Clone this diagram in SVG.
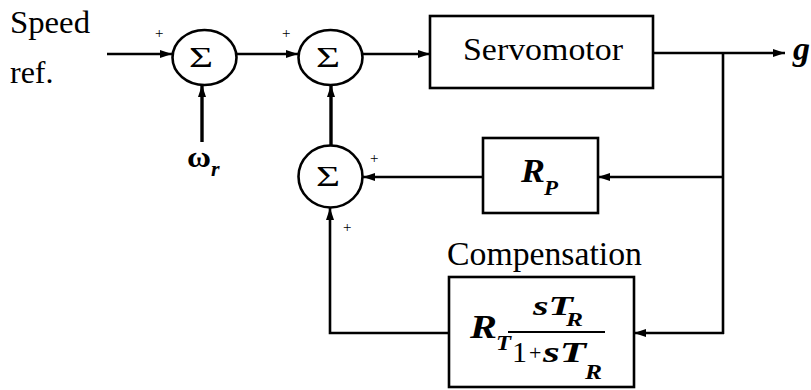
<svg xmlns="http://www.w3.org/2000/svg" width="811" height="390" viewBox="0 0 811 390">
<style>
.lbl{font-size:32px}
.sig{font-size:30px}
.bi{font-weight:bold;font-style:italic}
.pl{font-size:15px}
.box{fill:#fff;stroke:#000;stroke-width:2.6}
.sum{fill:#fff;stroke:#000;stroke-width:2.6}
.ln{fill:none;stroke:#000;stroke-width:2.6}
.th{fill:none;stroke:#000;stroke-width:3.4}
</style>
<defs>
<marker id="ah" viewBox="0 0 12 8" refX="12" refY="4" markerWidth="12" markerHeight="8" markerUnits="userSpaceOnUse" orient="auto">
<path d="M0,0 L12,4 L0,8 Z" fill="#000"/>
</marker>
</defs>
<g font-family="'Liberation Serif', 'DejaVu Serif', serif" fill="#000">
<g id="labels">
<text class="lbl" x="10" y="33" textLength="80" lengthAdjust="spacingAndGlyphs">Speed</text>
<text class="lbl" x="10" y="83">ref.</text>
<text x="187" y="167" font-size="30" font-weight="bold" textLength="24" lengthAdjust="spacingAndGlyphs">ω</text>
<text class="bi" x="211" y="176" font-size="22">r</text>
<text class="bi" x="793" y="60" font-size="34">g</text>
<text x="447" y="265" font-size="34" textLength="195" lengthAdjust="spacingAndGlyphs">Compensation</text>
<text class="pl" x="155" y="38">+</text>
<text class="pl" x="282" y="38">+</text>
<text class="pl" x="370" y="163">+</text>
<text class="pl" x="343" y="232">+</text>
</g>
<g id="connectors">
<line class="ln" x1="107" y1="54" x2="172" y2="54" marker-end="url(#ah)"/>
<line class="ln" x1="237" y1="54" x2="298" y2="54" marker-end="url(#ah)"/>
<line class="ln" x1="363" y1="54" x2="430" y2="54" marker-end="url(#ah)"/>
<line class="ln" x1="653" y1="53" x2="785" y2="53" marker-end="url(#ah)"/>
<line class="ln" x1="723" y1="53" x2="723" y2="334"/>
<line class="ln" x1="723" y1="177" x2="598" y2="177" marker-end="url(#ah)"/>
<line class="ln" x1="483" y1="177" x2="363" y2="177" marker-end="url(#ah)"/>
<line class="ln" x1="724" y1="333" x2="634" y2="333" marker-end="url(#ah)"/>
<polyline class="ln" points="449,333 330,333 330,208" marker-end="url(#ah)"/>
<line class="th" x1="202" y1="142" x2="202" y2="85" marker-end="url(#ah)"/>
<line class="th" x1="331" y1="145" x2="331" y2="85" marker-end="url(#ah)"/>
</g>
<g id="sum1">
<ellipse class="sum" cx="204.5" cy="57.5" rx="32" ry="27.5"/>
<text class="sig" x="189" y="67" textLength="24" lengthAdjust="spacingAndGlyphs">Σ</text>
</g>
<g id="sum2">
<ellipse class="sum" cx="330.5" cy="57.5" rx="32" ry="27.5"/>
<text class="sig" x="316" y="67" textLength="24" lengthAdjust="spacingAndGlyphs">Σ</text>
</g>
<g id="sum3">
<ellipse class="sum" cx="330.5" cy="176.5" rx="32" ry="31"/>
<text class="sig" x="316" y="186" textLength="24" lengthAdjust="spacingAndGlyphs">Σ</text>
</g>
<g id="servomotor">
<rect class="box" x="430" y="16" width="223" height="72"/>
<text class="lbl" x="463" y="60" textLength="160" lengthAdjust="spacingAndGlyphs">Servomotor</text>
</g>
<g id="rp">
<rect class="box" x="483" y="138" width="115" height="75"/>
<text class="bi" x="521" y="182" font-size="34" textLength="24" lengthAdjust="spacingAndGlyphs">R</text>
<text class="bi" x="544" y="195" font-size="22" textLength="14" lengthAdjust="spacingAndGlyphs">P</text>
</g>
<g id="compensation">
<rect class="box" x="449" y="277" width="185" height="110"/>
<text class="bi" x="470" y="338" font-size="34" textLength="27" lengthAdjust="spacingAndGlyphs">R</text>
<text class="bi" x="496" y="350" font-size="22" textLength="15" lengthAdjust="spacingAndGlyphs">T</text>
<text class="bi" x="533" y="315" font-size="28" textLength="40" lengthAdjust="spacingAndGlyphs">sT</text>
<text class="bi" x="566" y="326" font-size="19" textLength="17" lengthAdjust="spacingAndGlyphs">R</text>
<line x1="508" y1="332" x2="605" y2="332" stroke="#000" stroke-width="2"/>
<text x="512" y="362" font-size="30">1</text>
<text x="529" y="360" font-size="22">+</text>
<text class="bi" x="543" y="362" font-size="30" textLength="43" lengthAdjust="spacingAndGlyphs">sT</text>
<text class="bi" x="585" y="379" font-size="20" textLength="17" lengthAdjust="spacingAndGlyphs">R</text>
</g>
</g>
</svg>
